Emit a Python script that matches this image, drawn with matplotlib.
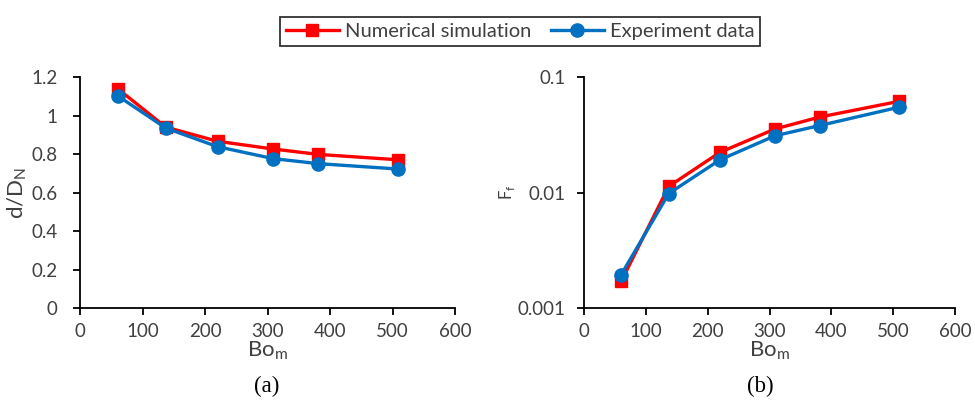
import numpy as np
import matplotlib.pyplot as plt

plt.rcParams['font.family'] = ['Lato', 'DejaVu Sans']
plt.rcParams['mathtext.fontset'] = 'custom'
plt.rcParams['mathtext.rm'] = 'Lato'

# Bond number of the magnetic field
bo_m = [60, 137, 220, 309, 381, 509]

# (a) droplet diameter ratio
dD_sim = [1.14, 0.94, 0.866, 0.826, 0.798, 0.770]
dD_exp = [1.103, 0.935, 0.838, 0.776, 0.750, 0.722]

# (b) frequency
Ff_sim = [0.0017, 0.0113, 0.0223, 0.0355, 0.045, 0.0615]
Ff_exp = [0.00194, 0.0098, 0.0192, 0.031, 0.038, 0.0547]

red = '#FF0000'
blue = '#0070C0'
grey = '#404040'

fig = plt.figure(figsize=(9.75, 4.07), dpi=100)
ax1 = fig.add_axes([0.0821, 0.2432, 0.3846, 0.5676])
ax2 = fig.add_axes([0.599, 0.2432, 0.3805, 0.5676])

def style(ax):
    for s in ['top', 'right']:
        ax.spines[s].set_visible(False)
    for s in ['left', 'bottom']:
        ax.spines[s].set_color('black')
        ax.spines[s].set_linewidth(1.3)
    ax.tick_params(direction='out', length=5, width=1.3, labelsize=13.5,
                   labelcolor=grey)
    ax.tick_params(axis='x', pad=6)
    ax.set_xlim(0, 600)
    ax.set_xticks(range(0, 601, 100))
    ax.set_xlabel(r'Bo$_\mathregular{m}$', fontsize=16, color=grey, labelpad=-1)

l1, = ax1.plot(bo_m, dD_sim, color=red, lw=2.4, marker='s', ms=8.5,
               label='Numerical simulation', zorder=3)
l2, = ax1.plot(bo_m, dD_exp, color=blue, lw=2.4, marker='o', ms=9.5,
               label='Experiment data', zorder=4)
style(ax1)
ax1.set_ylim(0, 1.2)
ax1.set_yticks([0, 0.2, 0.4, 0.6, 0.8, 1.0, 1.2])
ax1.set_yticklabels(['0', '0.2', '0.4', '0.6', '0.8', '1', '1.2'])
ax1.tick_params(axis='y', pad=11)
ax1.set_ylabel(r'd/D$_\mathregular{N}$', fontsize=16, color=grey, labelpad=2)

ax2.plot(bo_m, Ff_sim, color=red, lw=2.4, marker='s', ms=8.5, zorder=3)
ax2.plot(bo_m, Ff_exp, color=blue, lw=2.4, marker='o', ms=9.5, zorder=4)
style(ax2)
ax2.set_yscale('log')
ax2.set_ylim(0.001, 0.1)
ax2.set_yticks([0.001, 0.01, 0.1])
ax2.set_yticklabels(['0.001', '0.01', '0.1'])
ax2.minorticks_off()
ax2.tick_params(axis='y', which='minor', length=0)
ax2.tick_params(axis='y', pad=8)
ax2.set_ylabel(r'F$_\mathregular{f}$', fontsize=12, color=grey, labelpad=1)

fig.text(0.274, 0.050, '(a)', fontsize=16.5, family='Liberation Serif',
         ha='center', va='center')
fig.text(0.780, 0.050, '(b)', fontsize=16.5, family='Liberation Serif',
         ha='center', va='center')

leg = fig.legend(handles=[l1, l2], loc='upper center', bbox_to_anchor=(0.5335, 0.983),
                 ncol=2, fontsize=14.5, frameon=True, fancybox=False,
                 edgecolor='black', handlelength=2.6, columnspacing=1.0,
                 handletextpad=0.3, borderpad=0.3, labelcolor=grey)
leg.get_frame().set_linewidth(1.3)

fig.savefig('out.png', dpi=100)
